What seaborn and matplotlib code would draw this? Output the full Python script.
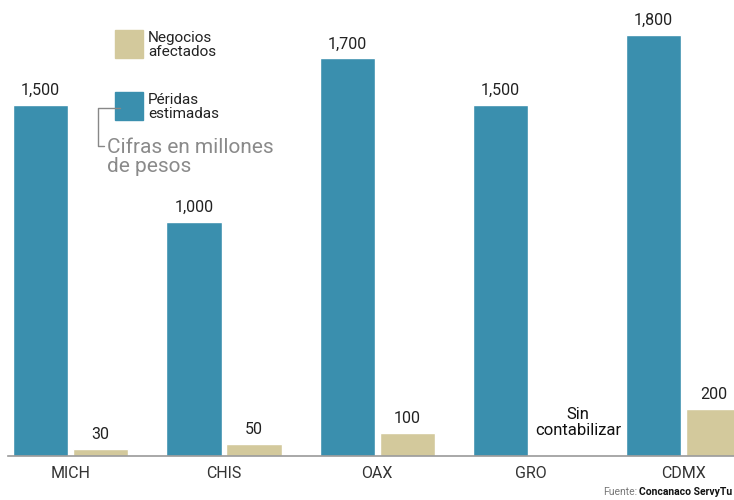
import pandas as pd
import matplotlib.pyplot as plt
import seaborn as sns
from matplotlib.patches import Rectangle
from matplotlib.lines import Line2D

# Data
estados = ['MICH', 'CHIS', 'OAX', 'GRO', 'CDMX']
perdidas = [1500, 1000, 1700, 1500, 1800]
negocios = [30, 50, 100, None, 200]   # GRO: sin contabilizar

TEAL = '#3a8fae'
BEIGE = '#d3c99c'

rows = []
for e, p, n in zip(estados, perdidas, negocios):
    rows.append({'estado': e, 'serie': 'Péridas estimadas', 'valor': p})
    if n is not None:
        rows.append({'estado': e, 'serie': 'Negocios afectados', 'valor': n})
df = pd.DataFrame(rows)

sns.set_style('white')
plt.rcParams['font.family'] = ['Roboto', 'DejaVu Sans']

fig = plt.figure(figsize=(7.34, 5), dpi=100)
ax = fig.add_axes([8 / 734, 0.088, 1 - 8 / 734, 0.912])

sns.barplot(data=df, x='estado', y='valor', hue='serie', order=estados,
            hue_order=['Péridas estimadas', 'Negocios afectados'],
            palette=[TEAL, BEIGE], width=0.784, gap=0.08, saturation=1,
            legend=False, ax=ax)

for cont in ax.containers:
    ax.bar_label(cont, fmt='{:,.0f}', padding=5, fontsize=11.5, color='#222222')

ax.set_xlim(-0.409, 4.328)
ax.set_ylim(0, 1950)
ax.set_xlabel('')
ax.set_ylabel('')
ax.set_yticks([])
for s in ['top', 'right', 'left']:
    ax.spines[s].set_visible(False)
ax.spines['bottom'].set_color('#9a9a9a')
ax.spines['bottom'].set_linewidth(1.2)
ax.tick_params(axis='x', length=0, pad=7, labelsize=11.5, labelcolor='#333333')

# "Sin contabilizar" label for GRO
ax.text(3.31, 75, 'Sin\ncontabilizar', ha='center', va='bottom',
        fontsize=12, color='#111111', linespacing=1.1)

# Custom legend
W, H = 734, 500
def fx(px):
    return px / W
def fy(py):
    return 1 - py / H

fig.patches.append(Rectangle((fx(115), fy(58)), 28 / W, 28 / H,
                             transform=fig.transFigure, color=BEIGE))
fig.patches.append(Rectangle((fx(115), fy(120)), 28 / W, 28 / H,
                             transform=fig.transFigure, color=TEAL))
fig.text(fx(148), fy(45), 'Negocios\nafectados', va='center', ha='left',
         fontsize=11, color='#222222', linespacing=1.05)
fig.text(fx(148), fy(107), 'Péridas\nestimadas', va='center', ha='left',
         fontsize=11, color='#222222', linespacing=1.05)
fig.lines.append(Line2D([fx(120), fx(98), fx(98), fx(104)],
                        [fy(108), fy(108), fy(146), fy(146)],
                        transform=fig.transFigure, color='#888888', lw=1))
fig.text(fx(107), fy(157), 'Cifras en millones\nde pesos', va='center', ha='left',
         fontsize=15, color='#8a8a8a', linespacing=0.95)

# Source
src = fig.text(fx(732), fy(492), 'Concanaco ServyTu', ha='right', va='center',
               fontsize=7.5, fontweight='bold', color='#111111')
fig.text(0, 0, '')
ax.annotate('Fuente:', xy=(0, 0.5), xycoords=src, xytext=(-1, 0),
            textcoords='offset points', ha='right', va='center',
            fontsize=7.5, color='#777777', annotation_clip=False)

plt.savefig('out.png', dpi=100)
